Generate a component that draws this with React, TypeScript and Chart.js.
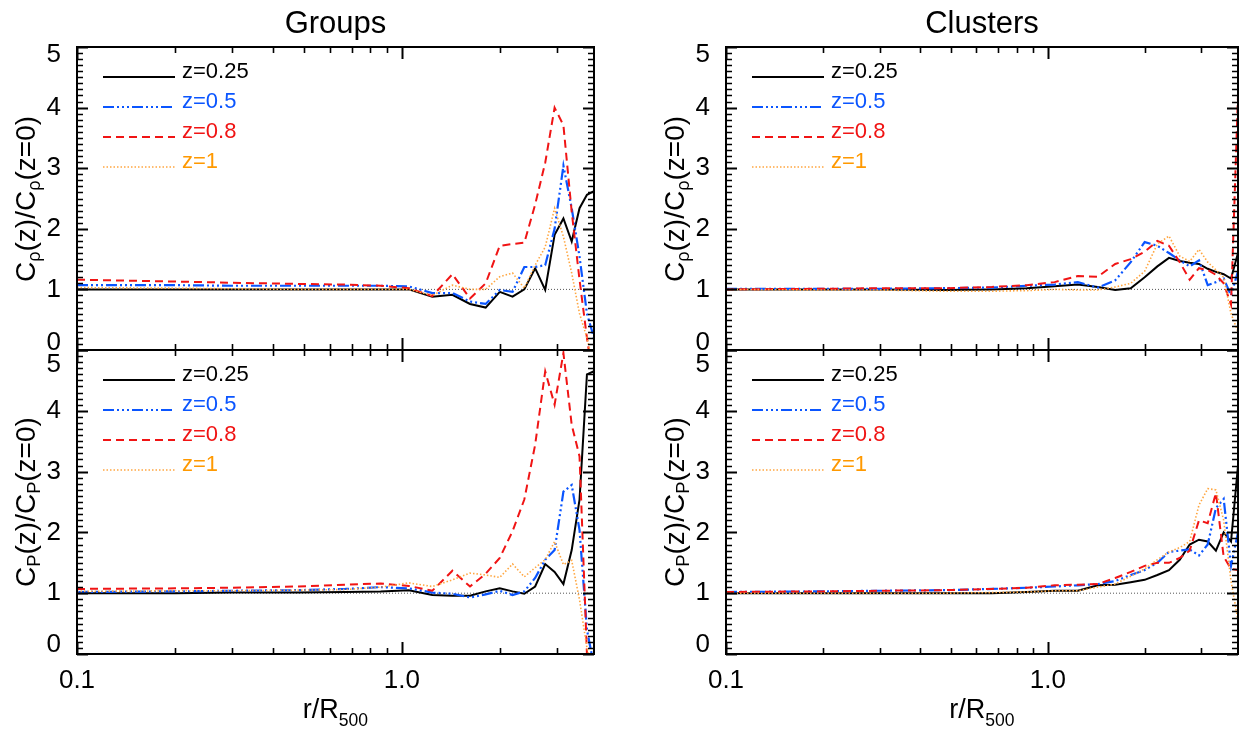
import React, { useEffect, useRef } from 'react';
import { Chart, registerables } from 'chart.js';
Chart.register(...registerables);

const FONT = '"Liberation Sans", Arial, Helvetica, sans-serif';

// ---------- data ----------
const radius = [0.1, 0.2, 0.3, 0.48, 0.67, 0.86, 1.05, 1.24, 1.43, 1.62, 1.81, 2.0, 2.19, 2.38, 2.57, 2.76, 2.95, 3.14, 3.33, 3.52, 3.71, 3.9];
const zLabels = ['z=0.25', 'z=0.5', 'z=0.8', 'z=1'];

// Groups, C_rho(z)/C_rho(z=0)
const groupsRhoZ025 = [1.0, 1.0, 1.0, 1.0, 1.0, 1.0, 1.0, 0.88, 0.91, 0.76, 0.7, 0.96, 0.88, 1.0, 1.35, 0.99, 1.9, 2.17, 1.79, 2.34, 2.56, 2.62];
const groupsRhoZ05 = [1.07, 1.07, 1.06, 1.06, 1.06, 1.06, 1.05, 0.94, 0.94, 0.8, 0.76, 0.99, 0.96, 1.37, 1.37, 1.4, 2.0, 3.04, 2.34, 1.54, 0.6, 0.2];
const groupsRhoZ08 = [1.16, 1.13, 1.11, 1.09, 1.08, 1.06, 1.02, 0.89, 1.25, 0.85, 1.1, 1.72, 1.75, 1.77, 2.4, 3.09, 4.0, 3.71, 2.28, 1.16, 0.2, -0.6];
const groupsRhoZ1 = [1.03, 1.02, 1.01, 1.0, 1.0, 1.0, 1.0, 0.9, 1.07, 1.0, 1.0, 1.21, 1.27, 1.02, 1.4, 1.7, 2.34, 1.87, 1.27, 0.6, 0.2, -0.3];

// Groups, C_P(z)/C_P(z=0)
const groupsPZ025 = [1.0, 1.0, 1.01, 1.01, 1.02, 1.03, 1.05, 0.97, 0.96, 0.96, 1.03, 1.08, 1.03, 0.99, 1.11, 1.48, 1.35, 1.15, 1.71, 2.54, 4.6, 4.65];
const groupsPZ05 = [1.02, 1.03, 1.04, 1.05, 1.07, 1.1, 1.08, 1.01, 0.99, 0.93, 0.98, 1.04, 0.97, 1.03, 1.25, 1.55, 1.71, 2.67, 2.78, 2.04, 0.4, -0.2];
const groupsPZ08 = [1.07, 1.08, 1.09, 1.11, 1.14, 1.16, 1.12, 1.04, 1.37, 1.11, 1.32, 1.58, 2.02, 2.54, 3.44, 4.65, 4.1, 4.95, 3.77, 3.25, 0.0, -0.5];
const groupsPZ1 = [1.03, 1.04, 1.04, 1.05, 1.06, 1.1, 1.17, 1.11, 1.22, 1.33, 1.3, 1.26, 1.48, 1.27, 1.42, 1.55, 1.85, 1.47, 1.54, 0.89, 0.1, -0.3];

// Clusters, C_rho(z)/C_rho(z=0)
const clustersRhoZ025 = [1.0, 1.0, 1.0, 0.99, 1.0, 1.02, 1.05, 1.08, 1.04, 0.99, 1.02, 1.2, 1.38, 1.52, 1.47, 1.44, 1.42, 1.34, 1.29, 1.25, 1.18, 1.6];
const clustersRhoZ05 = [1.01, 1.01, 1.01, 1.02, 1.03, 1.06, 1.08, 1.12, 1.03, 1.15, 1.45, 1.78, 1.72, 1.6, 1.48, 1.38, 1.48, 1.07, 1.12, 1.18, 0.9, 1.3];
const clustersRhoZ08 = [1.0, 1.01, 1.02, 1.02, 1.04, 1.07, 1.12, 1.22, 1.21, 1.42, 1.5, 1.62, 1.8, 1.72, 1.45, 1.16, 1.35, 1.32, 1.24, 1.1, 0.75, 4.2];
const clustersRhoZ1 = [1.0, 0.99, 0.99, 0.97, 0.97, 0.98, 1.0, 0.99, 0.99, 1.04, 1.1, 1.3, 1.75, 1.88, 1.55, 1.46, 1.66, 1.45, 1.32, 1.2, 0.6, 0.3];

// Clusters, C_P(z)/C_P(z=0)
const clustersPZ025 = [1.0, 1.0, 1.0, 1.0, 1.0, 1.02, 1.04, 1.04, 1.13, 1.14, 1.18, 1.22, 1.3, 1.38, 1.55, 1.8, 1.88, 1.85, 1.7, 2.0, 1.85, 3.1];
const clustersPZ05 = [1.02, 1.03, 1.04, 1.05, 1.07, 1.09, 1.11, 1.13, 1.15, 1.2, 1.3, 1.38, 1.5, 1.68, 1.7, 1.72, 1.62, 1.8, 2.4, 2.55, 1.45, 2.0];
const clustersPZ08 = [1.02, 1.03, 1.04, 1.05, 1.07, 1.09, 1.13, 1.14, 1.15, 1.25, 1.35, 1.45, 1.5, 1.5, 1.58, 1.7, 2.2, 2.15, 2.65, 1.6, 1.4, 1.38];
const clustersPZ1 = [1.0, 1.0, 1.0, 1.0, 1.01, 1.02, 1.04, 1.04, 1.1, 1.15, 1.28, 1.4, 1.55, 1.68, 1.75, 1.85, 2.45, 2.72, 2.7, 2.2, 1.2, 0.55];

// reference line at ratio = 1
const refLineX = [0.1, 3.9];
const refLineY = [1, 1];

// axes
const xMin = 0.1;
const xMax = 3.9;
const yMin = 0;
const yMax = 5;
const xTickValues = [0.1, 1];
const xTickLabels = ['0.1', '1.0'];
const xMinorTicks = [0.2, 0.3, 0.4, 0.5, 0.6, 0.7, 0.8, 0.9, 2, 3];
const yTickLabels = ['0', '1', '2', '3', '4', '5'];

// ---------- styles ----------
const seriesStyles = [
  { color: '#000000', dash: [] as number[], width: 2 },
  { color: '#0a55ff', dash: [11, 3, 2, 3, 2, 3, 2, 3], width: 2.2 },
  { color: '#f01414', dash: [8, 5], width: 2 },
  { color: '#ffa640', dash: [1.5, 2], width: 1.6 },
];
const legendTextColors = ['#000000', '#0a55ff', '#f01414', '#ff9900'];

const PAD_L = 60;
const PAD_R = 6;
const PAD_T = 44;
const PAD_B = 44;
const X_AXIS_H = 40;

const framePlugin = {
  id: 'idlFrame',
  afterDatasetsDraw(chart: any) {
    const { ctx, chartArea: a, scales } = chart;
    const xs = scales.x;
    const ys = scales.y;
    ctx.save();
    ctx.setLineDash([]);
    ctx.strokeStyle = '#000';
    // y ticks (major + minor) on left and right
    for (let k = 0; k <= 50; k++) {
      const v = k / 10;
      const py = Math.round(ys.getPixelForValue(v)) + 0.5;
      const major = k % 10 === 0;
      const len = major ? 11 : 6;
      ctx.lineWidth = major ? 2 : 1.6;
      ctx.beginPath();
      ctx.moveTo(a.left, py);
      ctx.lineTo(a.left + len, py);
      ctx.moveTo(a.right, py);
      ctx.lineTo(a.right - len, py);
      ctx.stroke();
    }
    // x ticks top and bottom
    const drawX = (v: number, len: number, lw: number) => {
      const px = Math.round(xs.getPixelForValue(v)) + 0.5;
      ctx.lineWidth = lw;
      ctx.beginPath();
      ctx.moveTo(px, a.bottom);
      ctx.lineTo(px, a.bottom - len);
      ctx.moveTo(px, a.top);
      ctx.lineTo(px, a.top + len);
      ctx.stroke();
    };
    xTickValues.forEach((v) => drawX(v, 12, 2));
    xMinorTicks.forEach((v) => drawX(v, 6, 1.6));
    // frame
    ctx.lineWidth = 2;
    ctx.strokeRect(a.left, a.top, a.right - a.left, a.bottom - a.top);

    // legend
    const items = chart.data.datasets.filter((d: any) => d.inLegend);
    items.forEach((d: any, i: number) => {
      const y = a.top + 30 + 30 * i;
      ctx.setLineDash(d.borderDash || []);
      ctx.strokeStyle = d.borderColor;
      ctx.lineWidth = d.borderWidth;
      ctx.beginPath();
      ctx.moveTo(a.left + 26, y);
      ctx.lineTo(a.left + 98, y);
      ctx.stroke();
      ctx.setLineDash([]);
      ctx.fillStyle = legendTextColors[i];
      ctx.font = `22px ${FONT}`;
      ctx.textAlign = 'left';
      ctx.textBaseline = 'alphabetic';
      ctx.fillText(d.label, a.left + 105, y + 1);
    });
    ctx.restore();
  },
};

type PanelSpec = {
  key: string;
  series: number[][];
  left: number;
  right: number;
  top: number;
  bottom: number;
  showX: boolean;
  topShift: number;
  bottomShift: number;
};

const PANELS: PanelSpec[] = [
  { key: 'gr', series: [groupsRhoZ025, groupsRhoZ05, groupsRhoZ08, groupsRhoZ1], left: 77, right: 594, top: 47, bottom: 350, showX: false, topShift: 8, bottomShift: 7 },
  { key: 'gp', series: [groupsPZ025, groupsPZ05, groupsPZ08, groupsPZ1], left: 77, right: 594, top: 350, bottom: 654, showX: true, topShift: 15, bottomShift: 9 },
  { key: 'cr', series: [clustersRhoZ025, clustersRhoZ05, clustersRhoZ08, clustersRhoZ1], left: 726, right: 1238, top: 47, bottom: 350, showX: false, topShift: 8, bottomShift: 7 },
  { key: 'cp', series: [clustersPZ025, clustersPZ05, clustersPZ08, clustersPZ1], left: 726, right: 1238, top: 350, bottom: 654, showX: true, topShift: 15, bottomShift: 9 },
];

function Panel({ spec }: { spec: PanelSpec }) {
  const ref = useRef<HTMLCanvasElement>(null);
  const w = spec.right - spec.left + PAD_L + PAD_R;
  const h = spec.bottom - spec.top + PAD_T + (spec.showX ? X_AXIS_H + 6 : PAD_B);

  useEffect(() => {
    if (!ref.current) return;
    const datasets: any[] = spec.series.map((arr, k) => ({
      label: zLabels[k],
      inLegend: true,
      data: radius.map((r, i) => ({ x: r, y: arr[i] })),
      borderColor: seriesStyles[k].color,
      borderDash: seriesStyles[k].dash,
      borderWidth: seriesStyles[k].width,
      pointRadius: 0,
      tension: 0,
      fill: false,
      clip: 1,
      order: 4 - k,
    }));
    datasets.push({
      label: 'ref',
      inLegend: false,
      data: refLineX.map((x, i) => ({ x, y: refLineY[i] })),
      borderColor: '#555555',
      borderDash: [1, 2],
      borderWidth: 1,
      pointRadius: 0,
      fill: false,
      order: 10,
    });

    const chart = new Chart(ref.current, {
      type: 'line',
      data: { datasets },
      plugins: [framePlugin],
      options: {
        responsive: false,
        maintainAspectRatio: false,
        animation: false,
        devicePixelRatio: 1,
        events: [],
        layout: { padding: { left: 0, right: PAD_R, top: PAD_T, bottom: spec.showX ? 6 : PAD_B } },
        plugins: { legend: { display: false }, tooltip: { enabled: false }, title: { display: false } },
        scales: {
          x: {
            type: 'logarithmic',
            position: 'bottom',
            min: xMin,
            max: xMax,
            grid: { display: false },
            border: { display: false },
            afterBuildTicks: (s: any) => {
              s.ticks = xTickValues.map((v) => ({ value: v }));
            },
            afterFit: (s: any) => {
              s.height = spec.showX ? X_AXIS_H : 0;
            },
            ticks: {
              display: spec.showX,
              autoSkip: false,
              maxRotation: 0,
              padding: 3,
              color: '#000',
              font: { size: 26, family: FONT },
              callback: (v: any) => {
                const idx = xTickValues.findIndex((t) => Math.abs(t - Number(v)) < 1e-9);
                return idx >= 0 ? xTickLabels[idx] : '';
              },
            },
          },
          y: {
            type: 'linear',
            position: 'left',
            min: yMin,
            max: yMax,
            grid: { display: false },
            border: { display: false },
            afterFit: (s: any) => {
              s.width = PAD_L;
            },
            ticks: {
              stepSize: 1,
              autoSkip: false,
              padding: 8,
              color: '#000',
              font: (ctx: any) => {
                const v = ctx.tick ? ctx.tick.value : -1;
                let lh: any = 1.2;
                if (v === yMax) lh = `${2 * spec.topShift}px`;
                if (v === yMin) lh = `${2 * spec.bottomShift}px`;
                return { size: 26, family: FONT, lineHeight: lh };
              },
              callback: (v: any) => {
                const lab = yTickLabels[Math.round(Number(v))];
                if (Number(v) === yMax) return ['', lab];
                if (Number(v) === yMin) return [lab, ''];
                return lab;
              },
            },
          },
        },
      } as any,
    });
    return () => chart.destroy();
  }, []);

  return (
    <canvas
      ref={ref}
      width={w}
      height={h}
      style={{ position: 'absolute', left: spec.left - PAD_L, top: spec.top - PAD_T, width: w, height: h }}
    />
  );
}

const subStyle: React.CSSProperties = { fontSize: '0.65em', verticalAlign: '-0.3em', lineHeight: 0 };
const subStyleX: React.CSSProperties = { fontSize: '0.65em', verticalAlign: '-0.45em', lineHeight: 0 };

function YTitle({ x, y, sym }: { x: number; y: number; sym: string }) {
  return (
    <div
      style={{
        position: 'absolute',
        left: x,
        top: y,
        transform: 'translate(-50%, -50%) rotate(-90deg)',
        whiteSpace: 'nowrap',
        fontSize: 28,
        lineHeight: 1,
        color: '#000',
      }}
    >
      C<span style={subStyle}>{sym}</span>(z)/C<span style={subStyle}>{sym}</span>(z=0)
    </div>
  );
}

function XTitle({ cx }: { cx: number }) {
  return (
    <div style={{ position: 'absolute', left: cx - 100, width: 200, top: 696, textAlign: 'center', fontSize: 27, lineHeight: 1, color: '#000', whiteSpace: 'nowrap' }}>
      r/R<span style={subStyleX}>500</span>
    </div>
  );
}

export default function App() {
  const leftCx = (77 + 594) / 2;
  const rightCx = (726 + 1238) / 2;
  return (
    <div style={{ position: 'absolute', left: 0, top: 0, width: 1242, height: 729, background: '#fff', overflow: 'hidden', fontFamily: FONT }}>
      {PANELS.map((p) => (
        <Panel key={p.key} spec={p} />
      ))}
      <div style={{ position: 'absolute', left: leftCx - 150, width: 300, top: 7, textAlign: 'center', fontSize: 31, lineHeight: 1 }}>Groups</div>
      <div style={{ position: 'absolute', left: rightCx - 150, width: 300, top: 7, textAlign: 'center', fontSize: 31, lineHeight: 1 }}>Clusters</div>
      <YTitle x={26} y={198.5} sym="ρ" />
      <YTitle x={26} y={502} sym="P" />
      <YTitle x={675} y={198.5} sym="ρ" />
      <YTitle x={675} y={502} sym="P" />
      <XTitle cx={leftCx} />
      <XTitle cx={rightCx} />
    </div>
  );
}
